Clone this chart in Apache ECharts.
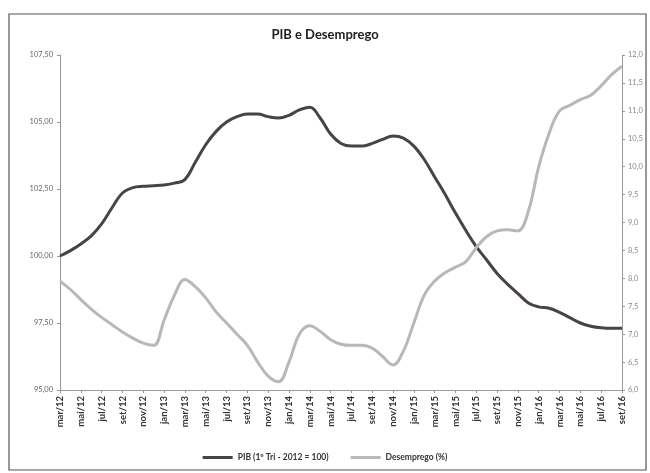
<!DOCTYPE html>
<html><head><meta charset="utf-8">
<script src="https://cdn.jsdelivr.net/npm/echarts@6/dist/echarts.min.js"></script>
<style>html,body{margin:0;padding:0;background:#fff}#c{width:650px;height:473px}</style>
</head><body><div id="c"></div>
<script>
const months = ['mar/12','abr/12','mai/12','jun/12','jul/12','ago/12','set/12','out/12','nov/12','dez/12',
'jan/13','fev/13','mar/13','abr/13','mai/13','jun/13','jul/13','ago/13','set/13','out/13','nov/13','dez/13',
'jan/14','fev/14','mar/14','abr/14','mai/14','jun/14','jul/14','ago/14','set/14','out/14','nov/14','dez/14',
'jan/15','fev/15','mar/15','abr/15','mai/15','jun/15','jul/15','ago/15','set/15','out/15','nov/15','dez/15',
'jan/16','fev/16','mar/16','abr/16','mai/16','jun/16','jul/16','ago/16','set/16'];
const pib = [100.0,100.2,100.45,100.75,101.2,101.8,102.35,102.55,102.6,102.62,
102.65,102.72,102.85,103.5,104.15,104.65,105.0,105.2,105.3,105.3,105.2,105.15,
105.25,105.45,105.55,105.15,104.55,104.2,104.1,104.1,104.2,104.35,104.48,104.4,
104.1,103.6,102.95,102.3,101.6,100.95,100.35,99.85,99.35,98.95,98.6,98.25,
98.1,98.05,97.9,97.7,97.5,97.38,97.32,97.3,97.3];
const desemprego = [7.95,7.8,7.62,7.45,7.3,7.17,7.04,6.93,6.84,6.8,
7.25,7.7,7.98,7.85,7.65,7.4,7.2,7.0,6.8,6.5,6.25,6.15,
6.5,7.0,7.15,7.05,6.9,6.82,6.8,6.8,6.75,6.6,6.45,6.7,
7.2,7.7,7.95,8.1,8.2,8.3,8.55,8.75,8.85,8.87,8.85,9.2,
10.0,10.6,11.0,11.1,11.2,11.28,11.45,11.65,11.8];
const leftTicks = {min:95, max:107.5, step:2.5};
const rightTicks = {min:6, max:12, step:0.5};

const chart = echarts.init(document.getElementById('c'));
const font = 'Lato, "Open Sans", sans-serif';
chart.setOption({
  animation:false,
  textStyle:{fontFamily:font},
  graphic:[{type:'rect',shape:{x:9,y:14,width:637,height:456},style:{fill:null,stroke:'#555',lineWidth:1.2}}],
  title:{text:'PIB e Desemprego',left:'center',top:23,textStyle:{fontFamily:font,fontSize:13,fontWeight:'bold',color:'#222'}},
  legend:{bottom:6,left:'center',itemWidth:30,itemHeight:3,itemGap:22,icon:'rect',
    textStyle:{fontFamily:font,fontSize:8.5,fontWeight:'bold',color:'#333'},
    data:['PIB (1º Tri - 2012 = 100)','Desemprego (%)']},
  grid:{left:60,right:28,top:55,bottom:83},
  xAxis:{type:'category',data:months,boundaryGap:false,
    axisLine:{lineStyle:{color:'#999'}},
    axisTick:{interval:1,length:3,lineStyle:{color:'#999'}},
    axisLabel:{interval:1,rotate:90,fontSize:9.5,fontWeight:'bold',color:'#333',margin:6}},
  yAxis:[{type:'value',min:leftTicks.min,max:leftTicks.max,interval:leftTicks.step,
    splitLine:{show:false},axisLine:{show:true,lineStyle:{color:'#999'}},
    axisTick:{show:true,length:3,lineStyle:{color:'#999'}},
    axisLabel:{fontSize:7.5,color:'#666',margin:7,formatter:v=>v.toFixed(2).replace('.',',')}},
   {type:'value',min:rightTicks.min,max:rightTicks.max,interval:rightTicks.step,position:'right',
    splitLine:{show:false},axisLine:{show:true,lineStyle:{color:'#999'}},
    axisTick:{show:true,length:3,lineStyle:{color:'#999'}},
    axisLabel:{fontSize:7.5,color:'#888',margin:6,formatter:v=>v.toFixed(1).replace('.',',')}}],
  series:[
    {name:'PIB (1º Tri - 2012 = 100)',type:'line',data:pib,yAxisIndex:0,smooth:0.4,symbol:'none',
     lineStyle:{color:'#4a4249',width:3},itemStyle:{color:'#4a4249'}},
    {name:'Desemprego (%)',type:'line',data:desemprego,yAxisIndex:1,smooth:0.4,symbol:'none',
     lineStyle:{color:'#b8b8b8',width:3},itemStyle:{color:'#b8b8b8'}}
  ]
});
</script></body></html>
